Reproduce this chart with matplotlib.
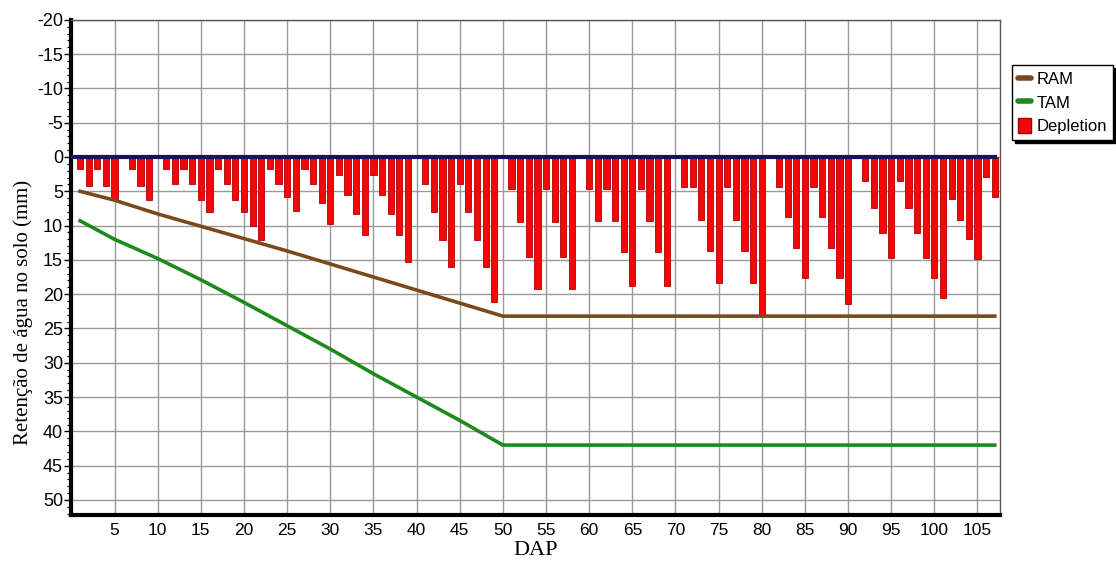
#!/usr/bin/python3

"""soil water retention chart: daily depletion against RAM and TAM"""

import matplotlib
matplotlib.use('Agg')
import matplotlib.pyplot as plt
from matplotlib.patches import Patch
from matplotlib.lines import Line2D
from matplotlib.ticker import MultipleLocator

plt.rcParams['axes.unicode_minus'] = False

# daily depletion (mm), days 1..107
days = list(range(1, 108))
depletion = [
    1.8, 4.2, 1.8, 4.2, 6.2, 0.0, 1.8, 4.2, 6.2, 0.0,
    1.8, 4.0, 1.8, 4.0, 6.2, 8.0, 1.8, 4.0, 6.2, 8.0,
    10.0, 12.1, 1.8, 3.9, 5.9, 7.8, 1.8, 3.9, 6.7, 9.7,
    2.6, 5.6, 8.3, 11.3, 2.6, 5.6, 8.3, 11.3, 15.3, 0.0,
    3.9, 8.0, 12.1, 16.1, 3.9, 8.0, 12.1, 16.1, 21.2, 0.0,
    4.6, 9.5, 14.6, 19.2, 4.6, 9.5, 14.6, 19.2, 0.0, 4.6,
    9.3, 4.6, 9.3, 13.9, 18.8, 4.6, 9.3, 13.9, 18.8, 0.0,
    4.4, 4.4, 9.2, 13.7, 18.3, 4.4, 9.2, 13.7, 18.3, 23.2,
    0.0, 4.4, 8.8, 13.3, 17.7, 4.4, 8.8, 13.3, 17.7, 21.4,
    0.0, 3.5, 7.5, 11.1, 14.7, 3.5, 7.5, 11.1, 14.7, 17.7,
    20.5, 6.1, 9.2, 12.0, 14.9, 2.9, 5.8,
]

# readily / total available water, read at a few days
ram_days = [1, 5, 10, 25, 35, 45, 50, 107]
ram = [5.0, 6.3, 8.3, 13.7, 17.5, 21.3, 23.2, 23.2]
tam_days = [1, 5, 10, 15, 20, 25, 30, 35, 40, 45, 50, 107]
tam = [9.3, 12.0, 14.8, 17.9, 21.2, 24.6, 28.0, 31.6, 35.0, 38.4, 42.0, 42.0]

zero_days = [0, 107]
zero_line = [0, 0]

xticks = list(range(5, 106, 5))
yticks = list(range(-20, 51, 5))

fig = plt.figure(figsize=(11.16, 5.66), dpi=100)
ax = fig.add_axes([0.064, 0.09, 0.832, 0.875])

ax.bar(days, depletion, width=0.72, bottom=0, color='#f20808',
       edgecolor='#b00000', linewidth=0.6, zorder=3)
ax.plot(ram_days, ram, color='#7a4a1c', lw=2.6, zorder=4)
ax.plot(tam_days, tam, color='#1e8a1e', lw=2.6, zorder=4)
ax.plot(zero_days, zero_line, color='#14145a', lw=3, zorder=5)

ax.set_xlim(0, 107.6)
ax.set_ylim(52.2, -20)
ax.set_xticks(xticks)
ax.set_yticks(yticks)
ax.yaxis.set_minor_locator(MultipleLocator(1))
ax.grid(True, color='#9a9a9a', lw=1, zorder=0)
ax.set_axisbelow(True)

for side in ['left', 'bottom']:
    ax.spines[side].set_linewidth(3)
    ax.spines[side].set_color('black')
for side in ['top', 'right']:
    ax.spines[side].set_linewidth(1)
    ax.spines[side].set_color('#555555')

ax.tick_params(axis='y', which='major', length=5, width=1, labelsize=13, pad=1)
ax.tick_params(axis='y', which='minor', length=3, width=0.8)
ax.tick_params(axis='x', length=0, pad=6)
for lab in ax.get_yticklabels():
    lab.set_family(['Liberation Sans', 'DejaVu Sans'])
for lab in ax.get_xticklabels():
    lab.set_family(['Liberation Sans Narrow', 'Liberation Sans', 'DejaVu Sans'])
    lab.set_fontsize(12.5)

ax.set_xlabel('DAP', family='Liberation Serif', fontsize=16, labelpad=2)
ax.set_ylabel('Retenção de água no solo (mm)', family='Liberation Serif',
              fontsize=15)
ax.yaxis.set_label_coords(-0.041, 0.41)

handles = [
    Line2D([0], [0], color='#7a4a1c', lw=4, solid_capstyle='round'),
    Line2D([0], [0], color='#1e8a1e', lw=4, solid_capstyle='round'),
    Patch(facecolor='#f20808', edgecolor='#b00000'),
]
leg = fig.legend(handles, ['RAM', 'TAM', 'Depletion'],
                 loc='upper left', bbox_to_anchor=(0.907, 0.885),
                 prop={'family': 'Liberation Sans', 'size': 12},
                 frameon=True, fancybox=False,
                 shadow={'color': 'black', 'alpha': 1.0},
                 handlelength=0.8, handleheight=1.0, handletextpad=0.3,
                 labelspacing=0.45, borderpad=0.35, borderaxespad=0)
leg.get_frame().set_edgecolor('black')
leg.get_frame().set_linewidth(1)

fig.savefig('out.png', dpi=100)
